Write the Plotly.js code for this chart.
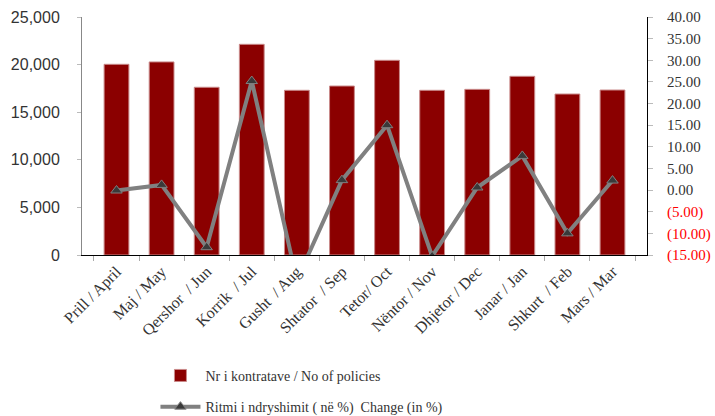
<!DOCTYPE html>
<html>
<head>
<meta charset="utf-8">
<script src="https://cdn.plot.ly/plotly-3.0.1.min.js"></script>
<style>html,body{margin:0;padding:0;background:#fff;}#chart{width:715px;height:416px;}</style>
</head>
<body>
<div id="chart"></div>
<script>
const months = ["Prill / April","Maj / May","Qershor  / Jun","Korrik  / Jul","Gusht  / Aug","Shtator  / Sep","Tetor/ Oct","Nëntor / Nov","Dhjetor / Dec","Janar / Jan","Shkurt  / Feb","Mars / Mar"];
const policies = [20030, 20280, 17620, 22130, 17300, 17750, 20450, 17300, 17400, 18770, 16910, 17330];
const changePct = [-0.1, 1.2, -13.2, 25.2, -20.8, 2.3, 15.0, -15.3, 0.6, 7.9, -10.0, 2.2];
const rightTickVals = [-15, -10, -5, 0, 5, 10, 15, 20, 25, 30, 35, 40];
const rightTickText = ['<span style="color:#ff0000">(15.00)</span>','<span style="color:#ff0000">(10.00)</span>','<span style="color:#ff0000">(5.00)</span>','0.00','5.00','10.00','15.00','20.00','25.00','30.00','35.00','40.00'];
const seriesNames = ["Nr i kontratave / No of policies", "Ritmi i ndryshimit ( në %)  Change (in %)"];

const SERIF = '"Liberation Serif", "Times New Roman", serif';
const SANS = '"Liberation Sans", Arial, sans-serif';

const traces = [
  {
    type: 'bar', x: months, y: policies, name: seriesNames[0],
    marker: {color: '#8b0000', line: {color: '#c98a8a', width: 1}},
    legendgroup: 'a', hoverinfo: 'none'
  },
  {
    type: 'scatter', mode: 'lines+markers', x: months, y: changePct, yaxis: 'y2', name: seriesNames[1],
    line: {color: '#808080', width: 4},
    marker: {symbol: 'triangle-up', size: 10, color: '#3a3a3a', line: {color: '#808080', width: 1}},
    legendgroup: 'b', hoverinfo: 'none'
  }
];

const layout = {
  width: 715, height: 416,
  margin: {l: 82, r: 68, t: 17, b: 161},
  paper_bgcolor: '#fff', plot_bgcolor: '#fff',
  showlegend: true,
  bargap: 0.45,
  xaxis: {
    type: 'category', showgrid: false, zeroline: false, automargin: false,
    showline: true, linecolor: '#000', linewidth: 1,
    ticks: 'outside', tickson: 'boundaries', ticklen: 5, tickcolor: '#aaa',
    tickangle: -45,
    tickfont: {family: SERIF, size: 16, color: '#333'}
  },
  yaxis: {
    range: [0, 25000], tickvals: [0,5000,10000,15000,20000,25000], tickformat: ',d',
    showgrid: false, zeroline: false, automargin: false,
    showline: true, linecolor: '#888', linewidth: 1,
    ticks: 'outside', ticklen: 4, tickcolor: '#bbb', ticklabelstandoff: 14,
    tickfont: {family: SANS, size: 16, color: '#333'}
  },
  yaxis2: {
    overlaying: 'y', side: 'right', range: [-15, 40], automargin: false,
    tickvals: rightTickVals, ticktext: rightTickText,
    showgrid: false, zeroline: false,
    showline: true, linecolor: '#000', linewidth: 1,
    ticks: 'outside', ticklen: 5, tickcolor: '#bbb', ticklabelstandoff: 11,
    tickfont: {family: SERIF, size: 15, color: '#333'}
  },
  legend: {
    orientation: 'v', xref: 'paper', yref: 'container',
    x: 0.13, y: 0.135, xanchor: 'left', yanchor: 'top',
    traceorder: 'grouped', tracegroupgap: 10,
    font: {family: SERIF, size: 14, color: '#333'},
    itemwidth: 40
  }
};

Plotly.newPlot('chart', traces, layout, {displayModeBar: false, staticPlot: true});
</script>
</body>
</html>
